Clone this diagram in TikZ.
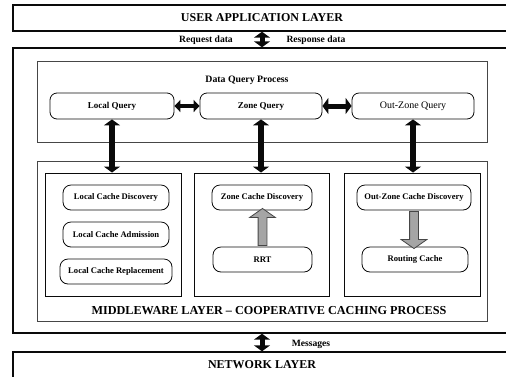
\documentclass[tikz,border=0pt]{standalone}
\usepackage{fontspec}
\setmainfont{Liberation Serif}
\usetikzlibrary{shapes.arrows, arrows.meta, positioning, calc}
\definecolor{framegray}{RGB}{70, 70, 70}
\definecolor{blockgray}{RGB}{165, 165, 165}
\definecolor{linkblack}{RGB}{10, 10, 10}
\tikzset{
    layer/.style={rectangle, draw=linkblack, line width=1.4pt, minimum width=498pt, minimum height=26pt, inner sep=0pt, align=center, font=\fontsize{12}{13}\selectfont\bfseries},
    panel/.style={rectangle, draw=framegray, line width=0.9pt, inner sep=0pt},
    query/.style={rectangle, draw=linkblack, line width=0.8pt, rounded corners=7pt, minimum width=122pt, minimum height=26pt, inner sep=0pt, font=\fontsize{9}{10}\selectfont\bfseries},
    cache/.style={rectangle, draw=linkblack, line width=0.8pt, rounded corners=8pt, minimum height=25pt, inner sep=0pt, font=\fontsize{8.6}{10}\selectfont\bfseries},
    caption/.style={inner sep=0pt, font=\fontsize{9.6}{11}\selectfont\bfseries},
    flow/.style={{Triangle[width=16pt,length=6pt]}-{Triangle[width=16pt,length=6pt]}, line width=5pt, linkblack},
    feed/.style={single arrow, draw=framegray, fill=blockgray, line width=0.8pt, inner xsep=0pt, inner ysep=4pt, minimum width=25pt, single arrow head extend=8.5pt, single arrow tip angle=110}
}

\begin{document}
\begin{tikzpicture}[x=1pt, y=-1pt]
    \useasboundingbox (0,0) rectangle (506,376);
    \clip (0,0) rectangle (506,376);

    % layers
    \node (user) [layer] at (262,18) {USER APPLICATION LAYER};
    \node (mw) [layer, minimum height=285pt] at (262,190.5) {};
    \node (net) [layer] at (262,365) {NETWORK LAYER};

    \node (req) [caption] at (206,40) {Request data};
    \node (resp) [caption] at (316,40) {Response data};
    \node (msg) [caption] at (311,344) {Messages};

    \draw [flow] (user.south) -- (mw.north);
    \draw [flow] (mw.south) -- (net.north);

    % data query process
    \node (dqp) [panel, minimum width=450pt, minimum height=81pt] at (262,101.5) {};
    \node (dqptitle) [caption, font=\fontsize{9.8}{11}\selectfont\bfseries] at (247,80) {Data Query Process};
    \node (localq) [query, minimum width=124pt] at (112,106) {Local Query};
    \node (zoneq) [query] at (261,106) {Zone Query};
    \node (outq) [query, font=\fontsize{10}{11}\selectfont] at (413,106) {Out-Zone Query};

    \draw [flow, line width=3.2pt, {Triangle[width=12pt,length=6pt]}-{Triangle[width=12pt,length=6pt]}] (localq) -- (zoneq);
    \draw [flow] (zoneq) -- (outq);

    % cooperative caching
    \node (mwin) [panel, minimum width=450pt, minimum height=160pt] at (262,241) {};
    \node (mwtitle) [caption, font=\fontsize{12.2}{13}\selectfont\bfseries] at (269,311) {MIDDLEWARE LAYER -- COOPERATIVE CACHING PROCESS};

    \node (lcol) [panel, draw=linkblack, minimum width=136pt, minimum height=123pt] at (113,234.5) {};
    \node (zcol) [panel, draw=linkblack, minimum width=135pt, minimum height=123pt] at (261.5,234.5) {};
    \node (ocol) [panel, draw=linkblack, minimum width=136pt, minimum height=123pt] at (412,234.5) {};

    \draw [flow, line width=5.8pt] (localq.south) -- (localq.south |- lcol.north);
    \draw [flow, line width=5.8pt] (zoneq.south) -- (zoneq.south |- zcol.north);
    \draw [flow, line width=5.8pt] (outq.south) -- (outq.south |- ocol.north);

    \node (lcd) [cache, minimum width=106pt] at (116,197.5) {Local Cache Discovery};
    \node (lca) [cache, minimum width=106pt] at (116,234.5) {Local Cache Admission};
    \node (lcr) [cache, minimum width=112pt] at (116,271.5) {Local Cache Replacement};

    \node (zcd) [cache, minimum width=100pt] at (262,197.5) {Zone Cache Discovery};
    \node (rrt) [cache, minimum width=99pt] at (262.5,259.5) {RRT};

    \node (ozcd) [cache, minimum width=114pt] at (414,197.5) {Out-Zone Cache Discovery};
    \node (rc) [cache, minimum width=106pt] at (415,259.5) {Routing Cache};

    \node [feed, rotate=90, minimum height=37pt] at ($(rrt.north)!0.5!(rrt.north |- zcd.south)$) {};
    \node [feed, rotate=-90, minimum height=37pt] at ($(ozcd.south)!0.5!(ozcd.south |- rc.north)$) {};
\end{tikzpicture}
\end{document}
